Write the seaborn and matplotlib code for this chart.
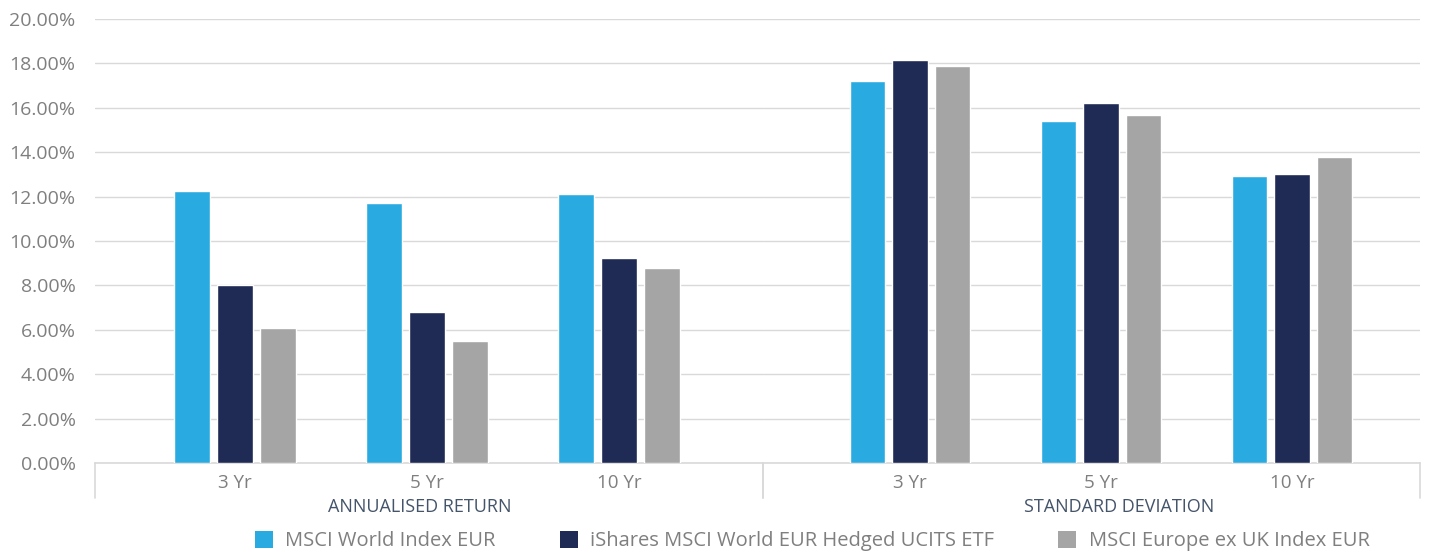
import matplotlib
matplotlib.use("Agg")
import matplotlib.pyplot as plt
import seaborn as sns
import pandas as pd
from matplotlib.patches import Patch

# ---- data ----
groups = ["ANNUALISED RETURN", "STANDARD DEVIATION"]
periods = ["3 Yr", "5 Yr", "10 Yr"]
series = ["MSCI World Index EUR", "iShares MSCI World EUR Hedged UCITS ETF", "MSCI Europe ex UK Index EUR"]
msci_world = [12.23, 11.69, 12.12, 17.20, 15.40, 12.93]
ishares_hedged = [8.00, 6.82, 9.23, 18.15, 16.20, 13.04]
msci_europe = [6.06, 5.50, 8.78, 17.88, 15.68, 13.78]
yticks = [0, 2, 4, 6, 8, 10, 12, 14, 16, 18, 20]

colors = ["#29ABE2", "#1F2A55", "#A5A5A5"]

rows = []
for s, vals in zip(series, [msci_world, ishares_hedged, msci_europe]):
    for i, v in enumerate(vals):
        rows.append({"group": groups[i // 3], "period": periods[i % 3], "series": s, "value": v})
df = pd.DataFrame(rows)

sns.set_theme(style="white")
plt.rcParams["font.family"] = ["Open Sans", "DejaVu Sans"]

fig = plt.figure(figsize=(14.31, 5.52), dpi=100)
W, H = 1431, 552
bottom = 1 - 463 / H
top = 1 - 19 / H
ax1 = fig.add_axes([95 / W, bottom, (763 - 95) / W, top - bottom])
ax2 = fig.add_axes([763 / W, bottom, (1420 - 763) / W, top - bottom], sharey=ax1)

tick_color = "#7F7F7F"
grid_color = "#D9D9D9"
label_color = "#44546A"

xlims = [(-0.729, 2.75), (-0.77, 2.67)]
label_x = [0.4865, 0.5419]
for ax, g, xl, lx in zip([ax1, ax2], groups, xlims, label_x):
    sub = df[df["group"] == g]
    sns.barplot(data=sub, x="period", y="value", hue="series", order=periods,
                hue_order=series, palette=colors, width=0.67, gap=0.17,
                saturation=1, legend=False, ax=ax, zorder=3)
    ax.set_xlim(*xl)
    ax.set_ylim(0, 20)
    ax.set_yticks(yticks)
    ax.yaxis.grid(True, color=grid_color, linewidth=1, zorder=0)
    ax.set_axisbelow(True)
    for sp in ["left", "right", "top"]:
        ax.spines[sp].set_visible(False)
    ax.spines["bottom"].set_color(grid_color)
    ax.spines["bottom"].set_linewidth(1.2)
    ax.set_xlabel("")
    ax.set_ylabel("")
    ax.tick_params(axis="x", length=0, pad=8, labelsize=13.5, labelcolor=tick_color)
    ax.tick_params(axis="y", length=0, labelsize=14, labelcolor=tick_color)
    ax.text(lx, -0.098, g, transform=ax.transAxes, ha="center", va="center",
            fontsize=13, color=label_color)
    # category-box vertical separators
    for xa in [0, 1]:
        ax.plot([xa, xa], [0, -0.079], transform=ax.transAxes, color=grid_color,
                linewidth=1.2, clip_on=False)

ax1.set_yticklabels([f"{t:.2f}%" for t in yticks])
ax1.tick_params(axis="y", pad=14)
ax2.tick_params(axis="y", labelleft=False)

handles = [Patch(facecolor=c, edgecolor="none") for c in colors]
fig.legend(handles, series, loc="center", bbox_to_anchor=(812 / W, 1 - 541 / H),
           ncol=3, frameon=False, fontsize=14.5, handlelength=0.9, handleheight=0.9,
           handletextpad=0.6, columnspacing=3.2, labelcolor=tick_color)

fig.savefig("out.png", dpi=100)
